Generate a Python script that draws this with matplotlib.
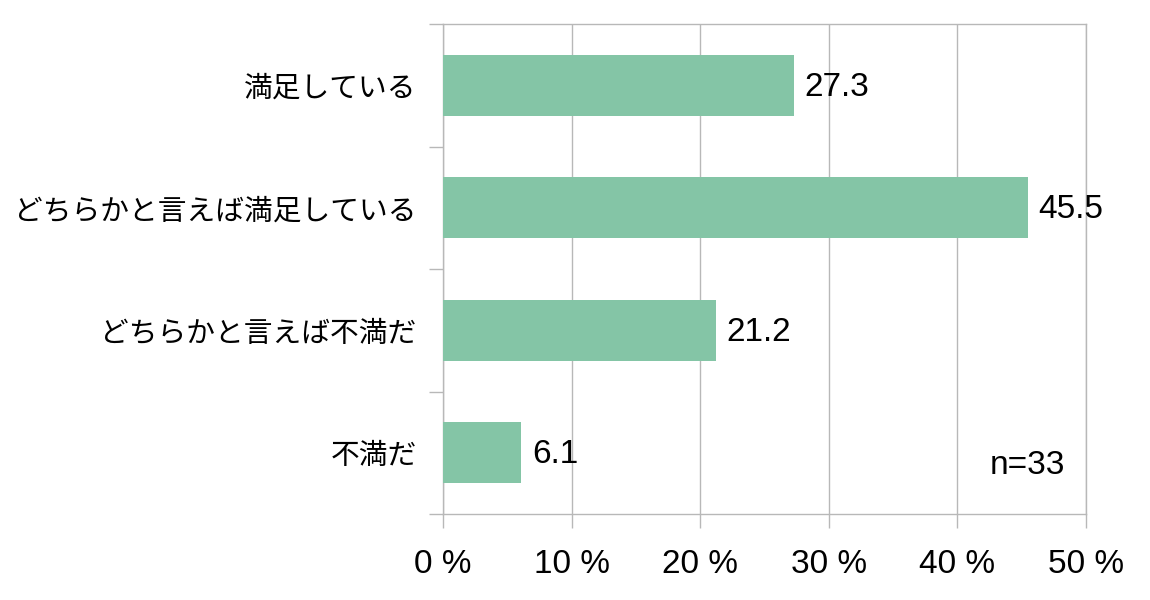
import matplotlib
matplotlib.use('Agg')
import matplotlib.pyplot as plt
import numpy as np

plt.rcParams['font.family'] = ['Liberation Sans', 'Noto Sans CJK JP', 'DejaVu Sans']

# data
categories = ['満足している', 'どちらかと言えば満足している', 'どちらかと言えば不満だ', '不満だ']
percent = [27.3, 45.5, 21.2, 6.1]
x_ticks = [0, 10, 20, 30, 40, 50]
x_tick_labels = ['0 %', '10 %', '20 %', '30 %', '40 %', '50 %']
sample_note = 'n=33'

bar_color = '#84c5a6'
grid_color = '#b8b8b8'

fig = plt.figure(figsize=(11.5, 6), dpi=100)
ax = fig.add_axes([443 / 1150, 1 - 514 / 600, 643 / 1150, 490 / 600])

pos = np.arange(len(categories))
ax.barh(pos, percent, height=0.5, color=bar_color, zorder=3)

for p, v in zip(pos, percent):
    ax.annotate(f'{v}', (v, p), xytext=(7.5, -1.5), textcoords='offset points',
                ha='left', va='center', fontsize=24, color='black')

ax.set_xlim(0, 50)
ax.set_ylim(len(categories) - 0.5, -0.5)

ax.set_xticks(x_ticks)
ax.set_xticklabels(x_tick_labels, fontsize=24)
ax.set_yticks(pos)
ax.set_yticklabels(categories, fontsize=20.7, family=['Noto Sans CJK JP', 'DejaVu Sans'])
ax.set_yticks(np.arange(len(categories) + 1) - 0.5, minor=True)

ax.tick_params(axis='x', which='major', length=10, width=1, color=grid_color, pad=15)
ax.tick_params(axis='y', which='major', length=0, pad=19)
ax.tick_params(axis='y', which='minor', length=10, width=1, color=grid_color)

ax.grid(axis='x', color=grid_color, linewidth=1, zorder=0)
for s in ax.spines.values():
    s.set_color(grid_color)
    s.set_linewidth(1)

ax.text(48.4, 3.1, sample_note, ha='right', va='center', fontsize=24)

fig.savefig('out.png', dpi=100)
